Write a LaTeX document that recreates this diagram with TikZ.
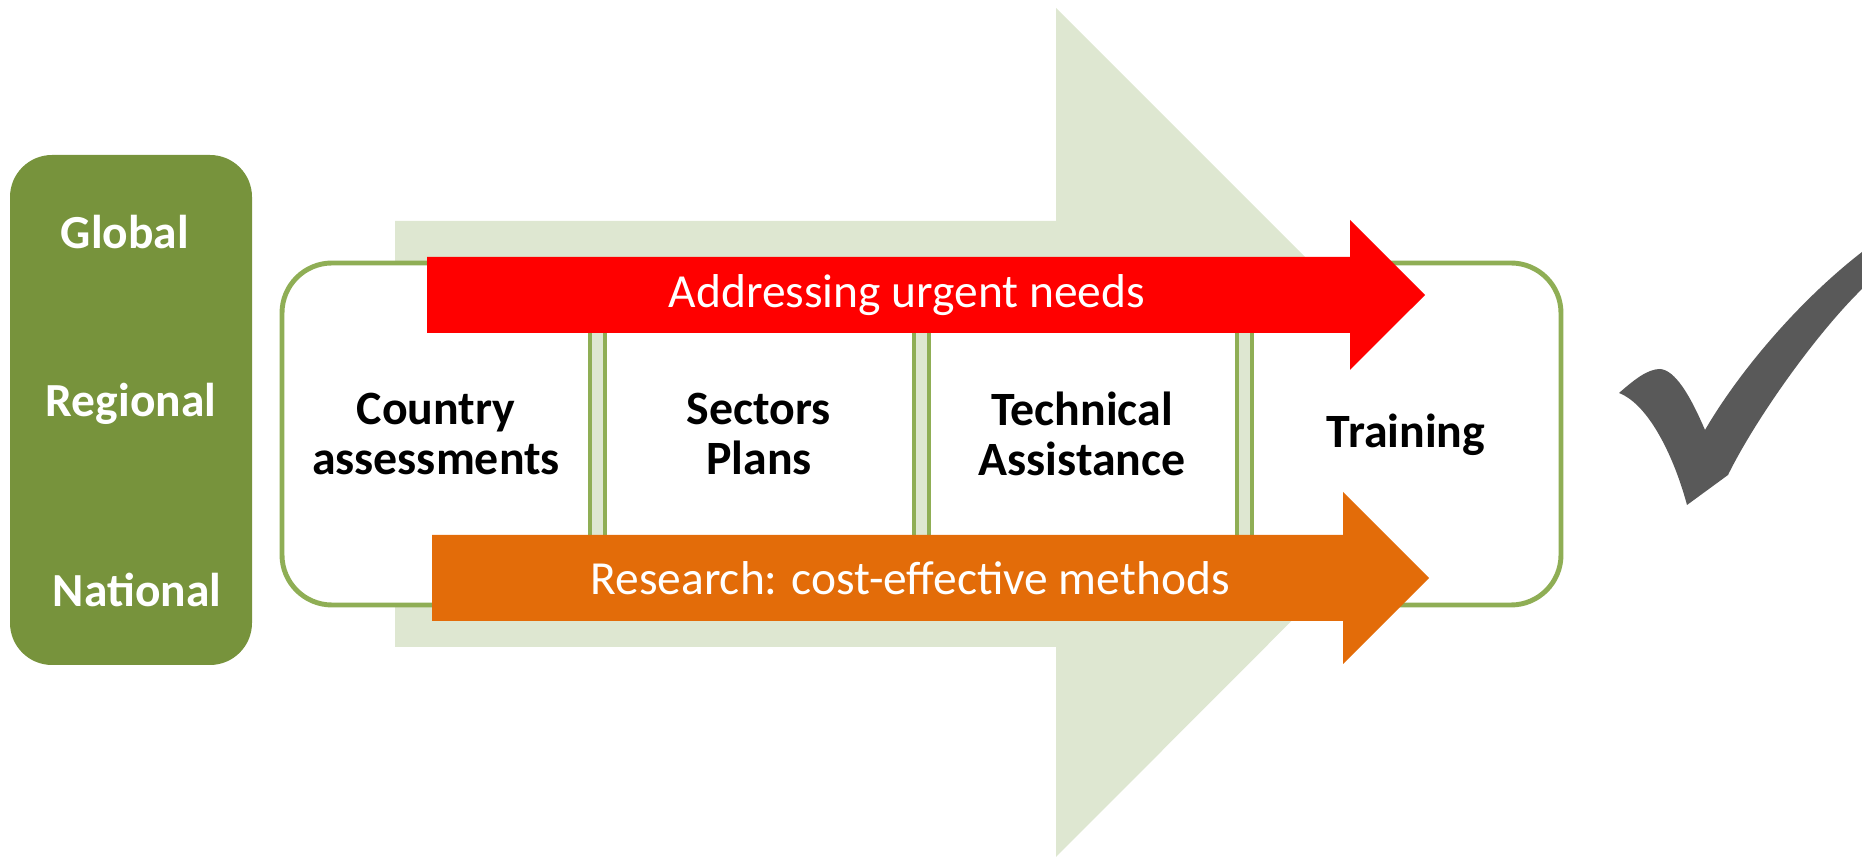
\documentclass[tikz,border=0pt]{standalone}
\usepackage{fontspec}
\setmainfont{Carlito}
\usetikzlibrary{positioning}
\definecolor{leafgreen}{RGB}{119,147,60}
\definecolor{palegreen}{RGB}{222,231,209}
\definecolor{rimgreen}{RGB}{143,174,85}
\definecolor{needsred}{RGB}{255,0,0}
\definecolor{methodorange}{RGB}{227,108,9}
\definecolor{tickgray}{RGB}{89,89,89}
\begin{document}
\begin{tikzpicture}[x=0.01cm,y=-0.01cm,
    level/.style={text=white,font=\fontsize{13.5}{14}\selectfont\bfseries},
    stage/.style={align=center,font=\fontsize{13.6}{14.2}\selectfont\bfseries},
    banner/.style={text=white,font=\fontsize{13.5}{14}\selectfont}]
        \useasboundingbox (0,0) rectangle (1862,861);
        % big pale arrow behind everything
        \fill[palegreen] (395,221) -- (1056,221) -- (1056,8) -- (1480,432)
          -- (1056,857) -- (1056,647) -- (395,647) -- cycle;
        % box of the four stages
        \draw[rimgreen,line width=1.4pt,fill=white,rounded corners=0.5cm]
          (282,263) rectangle (1561,605);
        \foreach \x in {588,912,1235} {
          \fill[palegreen] (\x,263) rectangle ++(19,342);
          \draw[rimgreen,line width=1.1pt] (\x+2,263) -- ++(0,342) (\x+17,263) -- ++(0,342);
        }
        % the two banners
        \fill[needsred] (427,257) -- (1350,257) -- (1350,220) -- (1425,295)
          -- (1350,370) -- (1350,333) -- (427,333) -- cycle;
        \fill[methodorange] (432,535) -- (1343,535) -- (1343,492) -- (1429,578)
          -- (1343,664) -- (1343,621) -- (432,621) -- cycle;
        \draw (907,295) node[banner](needs){Addressing urgent needs};
        \draw (910,578) node[banner](methods){Research: cost-effective methods};
        \draw (436,434) node[stage](country){Country\\assessments};
        \draw (759,434) node[stage](sectors){Sectors\\Plans};
        \draw (1082,434) node[stage](assist){Technical\\Assistance};
        \draw (1406,435) node[stage](training){Training};
        % levels
        \fill[leafgreen,rounded corners=0.42cm] (10,155) rectangle (252,665);
        \draw (125,232) node[level](global){Global};
        \draw (131,404) node[level](regional){Regional};
        \draw (137,590) node[level](national){National};
        % tick
        \fill[tickgray] (1619,393) .. controls (1635,379) and (1648,369) .. (1660,369)
          .. controls (1675,370) and (1690,395) .. (1705,430)
          .. controls (1740,370) and (1800,300) .. (1862,252)
          -- (1862,289)
          .. controls (1815,335) and (1755,420) .. (1728,475)
          -- (1687,505)
          .. controls (1675,460) and (1650,405) .. (1619,393) -- cycle;
      \end{tikzpicture}
\end{document}
